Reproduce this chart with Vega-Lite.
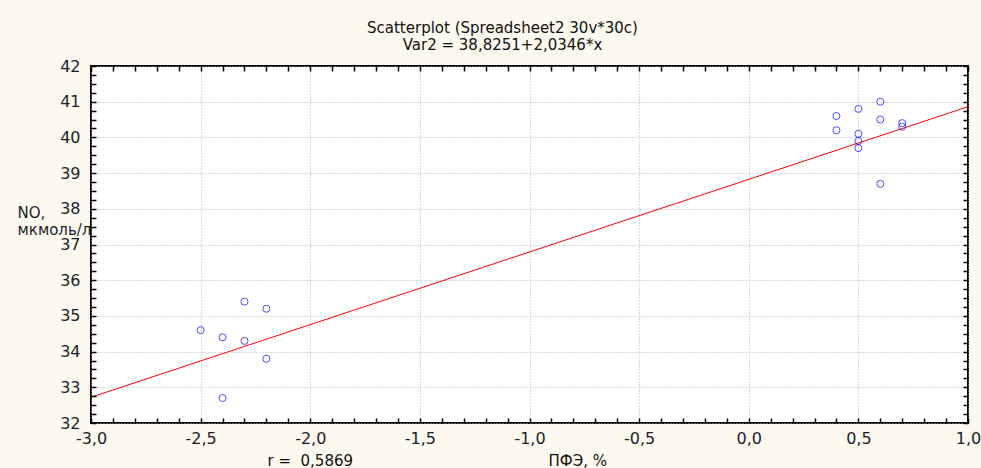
{
  "$schema": "https://vega.github.io/schema/vega-lite/v6.json",
  "width": 877,
  "height": 357,
  "autosize": "none",
  "padding": {"left": 91, "top": 66, "right": 13, "bottom": 45},
  "background": "#fdf9ef",
  "config": {
    "view": {"fill": "#ffffff", "stroke": "#000000", "strokeWidth": 2},
    "font": "DejaVu Sans",
    "axis": {"labelFont": "DejaVu Sans", "titleFont": "DejaVu Sans"}
  },
  "title": {
    "text": ["Scatterplot (Spreadsheet2 30v*30c)", "Var2 = 38,8251+2,0346*x"],
    "anchor": "middle",
    "dx": -27,
    "fontSize": 15,
    "fontWeight": "normal",
    "font": "DejaVu Sans",
    "color": "#111111",
    "lineHeight": 17,
    "offset": 5
  },
  "datasets": {
    "points": [
      {"pfe": -2.5, "no": 34.6},
      {"pfe": -2.4, "no": 34.4},
      {"pfe": -2.4, "no": 32.7},
      {"pfe": -2.3, "no": 35.4},
      {"pfe": -2.3, "no": 34.3},
      {"pfe": -2.2, "no": 35.2},
      {"pfe": -2.2, "no": 33.8},
      {"pfe": 0.4, "no": 40.6},
      {"pfe": 0.4, "no": 40.2},
      {"pfe": 0.5, "no": 40.8},
      {"pfe": 0.5, "no": 40.1},
      {"pfe": 0.5, "no": 39.9},
      {"pfe": 0.5, "no": 39.7},
      {"pfe": 0.6, "no": 41.0},
      {"pfe": 0.6, "no": 40.5},
      {"pfe": 0.6, "no": 38.7},
      {"pfe": 0.7, "no": 40.4},
      {"pfe": 0.7, "no": 40.3}
    ],
    "fit": [
      {"pfe": -3.0, "no": 32.7213},
      {"pfe": 1.0, "no": 40.8597}
    ]
  },
  "layer": [
    {
      "data": {"name": "fit"},
      "mark": {"type": "line", "color": "#ff0000", "strokeWidth": 1},
      "encoding": {
        "x": {
          "field": "pfe", "type": "quantitative",
          "scale": {"domain": [-3, 1], "nice": false, "zero": false},
          "axis": {
            "orient": "bottom",
            "domain": false,
            "ticks": false,
            "title": "r =\u00a0\u00a00,5869\u00a0\u00a0\u00a0\u00a0\u00a0\u00a0\u00a0\u00a0\u00a0\u00a0\u00a0\u00a0\u00a0\u00a0\u00a0\u00a0\u00a0\u00a0\u00a0\u00a0\u00a0\u00a0\u00a0\u00a0\u00a0\u00a0\u00a0\u00a0\u00a0\u00a0\u00a0\u00a0\u00a0\u00a0\u00a0\u00a0\u00a0\u00a0\u00a0\u00a0\u00a0ПФЭ, %",
            "titleAnchor": "start",
            "titleAlign": "left",
            "titleX": 176,
            "titleY": 37,
            "titleBaseline": "middle",
            "titleFontSize": 15,
            "titleFontWeight": "normal",
            "titleColor": "#111111",
            "values": [-3.0,-2.5,-2.0,-1.5,-1.0,-0.5,0.0,0.5,1.0],
            "labelExpr": "replace(replace(format(datum.value, '.1f'), '.', ','), '\u2212', '-')",
            "labelFontSize": 16,
            "labelColor": "#1a1f2e",
            "labelPadding": 7,
            "labelOverlap": false,
            "labelFlush": false,
            "grid": true,
            "gridColor": "#b0b0b0",
            "gridDash": [1, 2]
          }
        },
        "y": {
          "field": "no", "type": "quantitative",
          "scale": {"domain": [32, 42], "nice": false, "zero": false},
          "axis": {
            "orient": "left",
            "domain": false,
            "ticks": false,
            "title": ["NO,", "мкмоль/л"],
            "titleAngle": 0,
            "titleAlign": "left",
            "titleBaseline": "middle",
            "titleX": -74,
            "titleY": 146,
            "titleLineHeight": 17,
            "titleFontSize": 15,
            "titleFontWeight": "normal",
            "titleColor": "#1a1f2e",
            "values": [32,33,34,35,36,37,38,39,40,41,42],
            "format": "d",
            "labelFontSize": 16,
            "labelColor": "#1a1f2e",
            "labelPadding": 11,
            "labelOverlap": false,
            "labelFlush": false,
            "grid": true,
            "gridColor": "#b0b0b0",
            "gridDash": [1, 2]
          }
        }
      }
    },
    {
      "data": {"name": "points"},
      "mark": {"type": "point", "shape": "circle", "filled": false, "color": "#0000ff", "size": 50, "strokeWidth": 1},
      "encoding": {
        "x": {
          "field": "pfe", "type": "quantitative",
          "axis": {
            "orient": "top",
            "offset": -5,
            "title": null,
            "labels": false,
            "grid": false,
            "domain": false,
            "values": [-3.0,-2.9,-2.8,-2.7,-2.6,-2.5,-2.4,-2.3,-2.2,-2.1,-2.0,-1.9,-1.8,-1.7,-1.6,-1.5,-1.4,-1.3,-1.2,-1.1,-1.0,-0.9,-0.8,-0.7,-0.6,-0.5,-0.4,-0.3,-0.2,-0.1,0.0,0.1,0.2,0.3,0.4,0.5,0.6,0.7,0.8,0.9,1.0],
            "ticks": true,
            "tickColor": "#000000",
            "tickWidth": 1.5,
            "tickSize": 5
          }
        },
        "y": {
          "field": "no", "type": "quantitative",
          "axis": {
            "orient": "right",
            "offset": -5,
            "title": null,
            "labels": false,
            "grid": false,
            "domain": false,
            "values": [32,32.25,32.5,32.75,33,33.25,33.5,33.75,34,34.25,34.5,34.75,35,35.25,35.5,35.75,36,36.25,36.5,36.75,37,37.25,37.5,37.75,38,38.25,38.5,38.75,39,39.25,39.5,39.75,40,40.25,40.5,40.75,41,41.25,41.5,41.75,42],
            "ticks": true,
            "tickColor": "#000000",
            "tickWidth": 1.5,
            "tickSize": 5
          }
        }
      }
    },
    {
      "data": {"name": "fit"},
      "mark": {"type": "line", "color": "#ff0000", "strokeWidth": 1, "strokeOpacity": 0},
      "encoding": {
        "x": {
          "field": "pfe", "type": "quantitative",
          "axis": {
            "orient": "top",
            "offset": -357,
            "zindex": 1,
            "title": null,
            "labels": false,
            "grid": false,
            "domain": false,
            "values": [-3.0,-2.9,-2.8,-2.7,-2.6,-2.5,-2.4,-2.3,-2.2,-2.1,-2.0,-1.9,-1.8,-1.7,-1.6,-1.5,-1.4,-1.3,-1.2,-1.1,-1.0,-0.9,-0.8,-0.7,-0.6,-0.5,-0.4,-0.3,-0.2,-0.1,0.0,0.1,0.2,0.3,0.4,0.5,0.6,0.7,0.8,0.9,1.0],
            "ticks": true,
            "tickColor": "#000000",
            "tickWidth": 1.5,
            "tickSize": 5
          }
        },
        "y": {
          "field": "no", "type": "quantitative",
          "axis": {
            "orient": "right",
            "offset": -877,
            "zindex": 1,
            "title": null,
            "labels": false,
            "grid": false,
            "domain": false,
            "values": [32,32.25,32.5,32.75,33,33.25,33.5,33.75,34,34.25,34.5,34.75,35,35.25,35.5,35.75,36,36.25,36.5,36.75,37,37.25,37.5,37.75,38,38.25,38.5,38.75,39,39.25,39.5,39.75,40,40.25,40.5,40.75,41,41.25,41.5,41.75,42],
            "ticks": true,
            "tickColor": "#000000",
            "tickWidth": 1.5,
            "tickSize": 5
          }
        }
      }
    }
  ],
  "resolve": {"axis": {"x": "independent", "y": "independent"}}
}
